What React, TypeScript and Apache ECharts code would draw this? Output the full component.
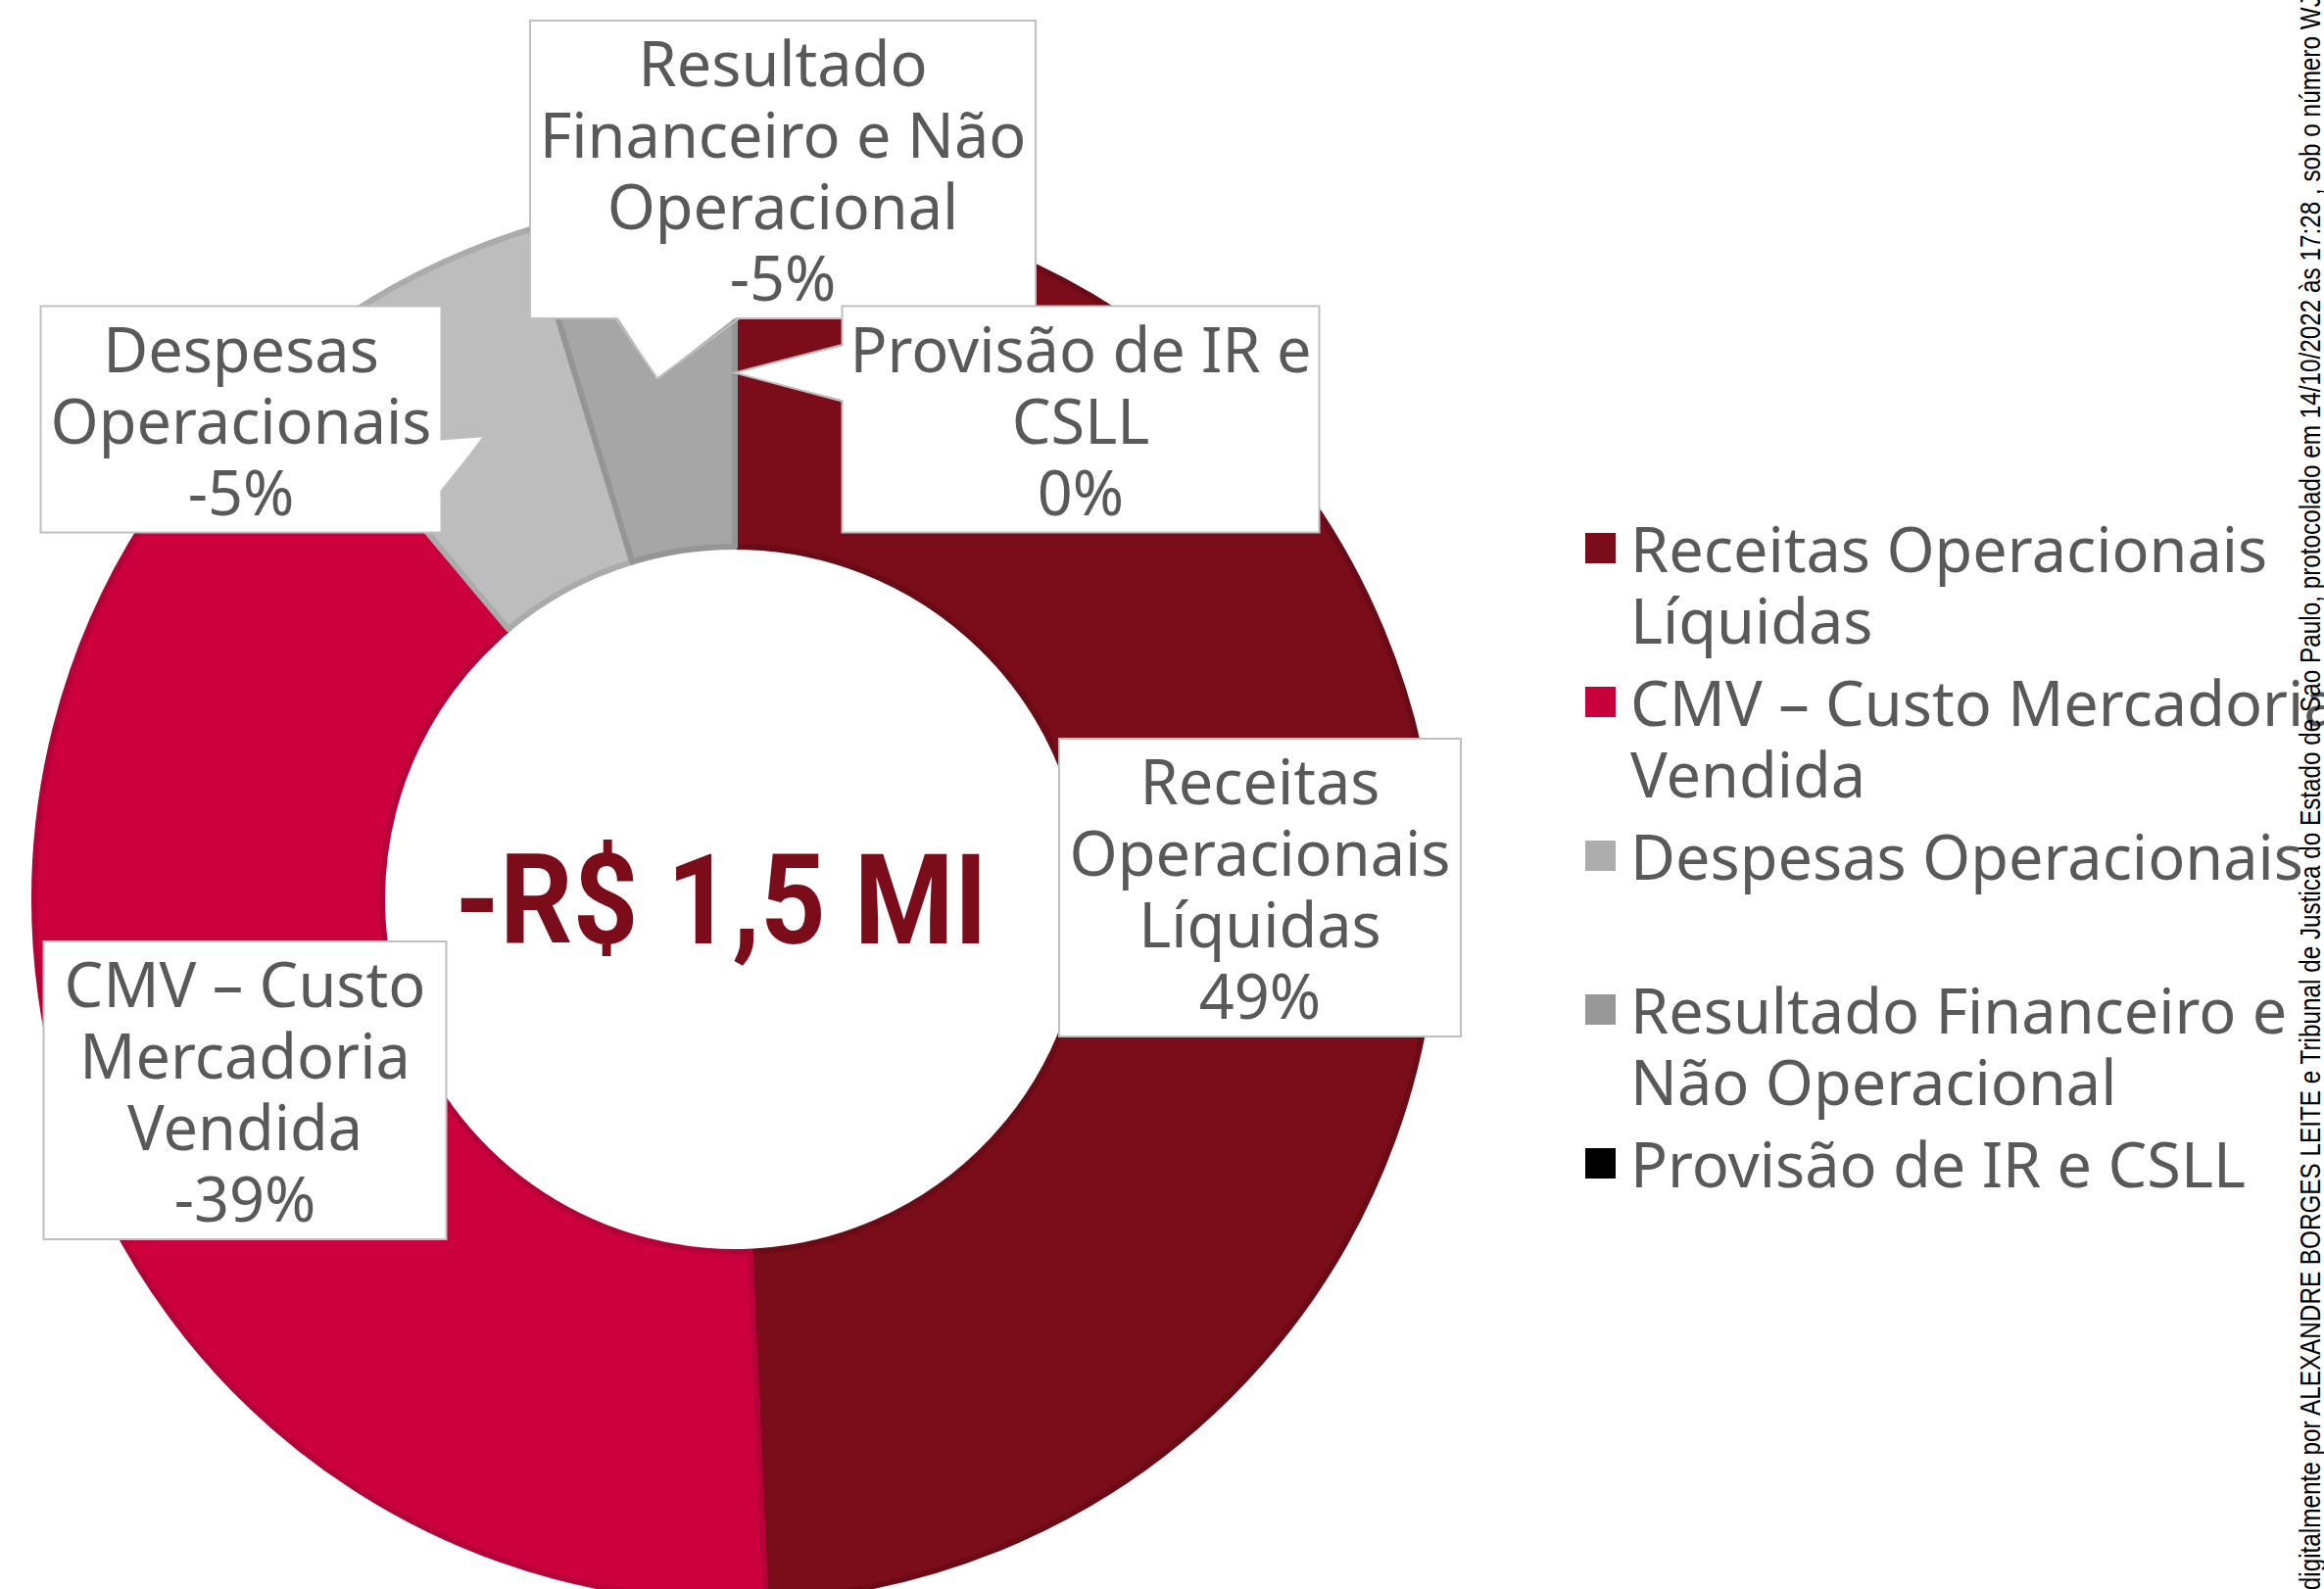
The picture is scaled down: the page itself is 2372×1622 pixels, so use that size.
import React, { useEffect, useRef } from 'react';
import * as echarts from 'echarts';

// ---------- data ----------
const categories = [
  'Receitas Operacionais Líquidas',
  'CMV – Custo Mercadoria Vendida',
  'Despesas Operacionais',
  'Resultado Financeiro e Não Operacional',
  'Provisão de IR e CSLL',
];
// share of the ring each slice takes
const sliceValues = [49.3, 39.6, 6.4, 4.7, 0];
const labelPercents = ['49%', '-39%', '-5%', '-5%', '0%'];
const labelLines = [
  ['Receitas', 'Operacionais', 'Líquidas'],
  ['CMV – Custo', 'Mercadoria', 'Vendida'],
  ['Despesas', 'Operacionais'],
  ['Resultado', 'Financeiro e Não', 'Operacional'],
  ['Provisão de IR e', 'CSLL'],
];
const legendLines = [
  ['Receitas Operacionais', 'Líquidas'],
  ['CMV – Custo Mercadoria', 'Vendida'],
  ['Despesas Operacionais', ''],
  ['Resultado Financeiro e', 'Não Operacional'],
  ['Provisão de IR e CSLL', ''],
];
const centerText = '-R$ 1,5 MI';
const watermark =
  'digitalmente por ALEXANDRE BORGES LEITE e Tribunal de Justica do Estado de Sao Paulo, protocolado em 14/10/2022 às 17:28 , sob o número WJM';

// ---------- styles / layout ----------
const sliceColors = ['#7B0D1A', '#CC003D', '#BDBDBD', '#A6A6A6', '#000000'];
const sliceBorders = ['#6A0B16', '#B5003A', '#ABABAB', '#959595', '#000000'];
const legendColors = ['#7B0D1A', '#C8003C', '#ADADAD', '#989898', '#000000'];
const W = 2372;
const H = 1622;
const PIE_CENTER = [750, 918];
const R_IN = 360;
const R_OUT = 715;
const FONT = '"Noto Sans", sans-serif';
const FS = 63;
const LINE_H = 73;
const PAD_Y = 5;
const TEXT_COLOR = '#595959';
const BOX_BORDER = '#BFBFBF';

type Wedge = { edge: 'left' | 'right' | 'bottom'; a: number; b: number };
const labelBoxes: { cx: number; cy: number; w: number; wedge?: Wedge }[] = [
  { cx: 1286, cy: 906, w: 408 },
  { cx: 250, cy: 1113, w: 409 },
  { cx: 246, cy: 428, w: 407, wedge: { edge: 'right', a: 0.59, b: 0.84 } },
  { cx: 799, cy: 173, w: 514, wedge: { edge: 'bottom', a: 0.167, b: 0.416 } },
  { cx: 1103, cy: 428, w: 485, wedge: { edge: 'left', a: 0.167, b: 0.42 } },
];

function boxHeight(i: number) {
  return (labelLines[i].length + 1) * LINE_H + 2 * PAD_Y;
}

function buildWedges() {
  const total = sliceValues.reduce((s, v) => s + v, 0);
  const rm = (R_IN + R_OUT) / 2;
  let acc = 0;
  const els: any[] = [];
  sliceValues.forEach((v, i) => {
    const mid = ((acc + v / 2) / total) * Math.PI * 2;
    acc += v;
    const box = labelBoxes[i];
    if (!box.wedge) return;
    const tip = [PIE_CENTER[0] + rm * Math.sin(mid), PIE_CENTER[1] - rm * Math.cos(mid)];
    const h = boxHeight(i);
    const left = box.cx - box.w / 2;
    const top = box.cy - h / 2;
    const { edge, a, b } = box.wedge;
    let p1: number[], p2: number[], inward: number[];
    if (edge === 'right') {
      p1 = [left + box.w, top + a * h];
      p2 = [left + box.w, top + b * h];
      inward = [-4, 0];
    } else if (edge === 'left') {
      p1 = [left, top + a * h];
      p2 = [left, top + b * h];
      inward = [4, 0];
    } else {
      p1 = [left + a * box.w, top + h];
      p2 = [left + b * box.w, top + h];
      inward = [0, -4];
    }
    els.push({
      type: 'polygon',
      z: 20,
      silent: true,
      shape: {
        points: [[p1[0] + inward[0], p1[1] + inward[1]], tip, [p2[0] + inward[0], p2[1] + inward[1]]],
      },
      style: { fill: '#ffffff', stroke: null },
    });
    els.push({
      type: 'polyline',
      z: 21,
      silent: true,
      shape: { points: [p1, tip, p2] },
      style: { stroke: BOX_BORDER, lineWidth: 2, fill: null },
    });
  });
  return els;
}

export default function App() {
  const ref = useRef<HTMLDivElement>(null);

  useEffect(() => {
    if (!ref.current) return;
    const chart = echarts.init(ref.current, undefined, { renderer: 'svg' });

    const option: any = {
      animation: false,
      backgroundColor: '#ffffff',
      legend: {
        orient: 'vertical',
        left: 1618,
        top: 523,
        padding: 0,
        itemGap: 11,
        itemWidth: 41,
        itemHeight: 146,
        selectedMode: false,
        icon: 'path://M0,0L0.01,0M41,146L40.99,146M0,21L31,21L31,52L0,52Z',
        itemStyle: { borderWidth: 0 },
        data: categories.map((name, i) => ({ name, itemStyle: { color: legendColors[i], borderWidth: 0 } })),
        formatter: (name: string) => legendLines[categories.indexOf(name)].join('\n'),
        textStyle: { fontSize: FS, lineHeight: LINE_H, color: TEXT_COLOR, fontFamily: FONT },
      },
      series: [
        {
          type: 'pie',
          radius: [R_IN, R_OUT],
          center: PIE_CENTER,
          startAngle: 90,
          clockwise: true,
          avoidLabelOverlap: false,
          silent: true,
          emphasis: { disabled: true },
          data: categories.map((name, i) => ({
            name,
            value: sliceValues[i],
            itemStyle: {
              color: sliceColors[i],
              borderColor: sliceBorders[i],
              borderWidth: sliceValues[i] > 0 ? 6 : 0,
            },
            label: { width: labelBoxes[i].w },
          })),
          label: {
            show: true,
            position: 'outside',
            formatter: (p: any) => [...labelLines[p.dataIndex], labelPercents[p.dataIndex]].join('\n'),
            color: TEXT_COLOR,
            fontSize: FS,
            lineHeight: LINE_H,
            fontFamily: FONT,
            backgroundColor: '#ffffff',
            borderColor: BOX_BORDER,
            borderWidth: 2,
            padding: [PAD_Y, 0],
            align: 'center',
          },
          labelLine: { show: false },
          labelLayout: (p: any) => ({
            x: labelBoxes[p.dataIndex].cx,
            y: labelBoxes[p.dataIndex].cy,
            align: 'center',
            verticalAlign: 'middle',
          }),
        },
      ],
      graphic: [
        ...buildWedges(),
        {
          type: 'text',
          x: 736,
          y: 919,
          scaleX: 0.91,
          z: 15,
          silent: true,
          style: {
            text: centerText,
            fontSize: 128,
            fontWeight: 'bold',
            fontFamily: 'Roboto, sans-serif',
            fill: '#7B0D1A',
            align: 'center',
            verticalAlign: 'middle',
            textAlign: 'center',
            textVerticalAlign: 'middle',
          },
        },
        {
          type: 'text',
          x: 2358,
          y: -25,
          rotation: Math.PI / 2,
          scaleX: 0.81,
          z: 30,
          silent: true,
          style: {
            text: watermark,
            fontSize: 30,
            fontFamily: '"Liberation Sans", Arial, sans-serif',
            fill: '#000000',
            align: 'right',
            verticalAlign: 'middle',
            textAlign: 'right',
            textVerticalAlign: 'middle',
          },
        },
      ],
    };

    chart.setOption(option);
    return () => chart.dispose();
  }, []);

  return (
    <div
      ref={ref}
      style={{ position: 'fixed', left: 0, top: 0, width: W, height: H, background: '#ffffff' }}
    />
  );
}
